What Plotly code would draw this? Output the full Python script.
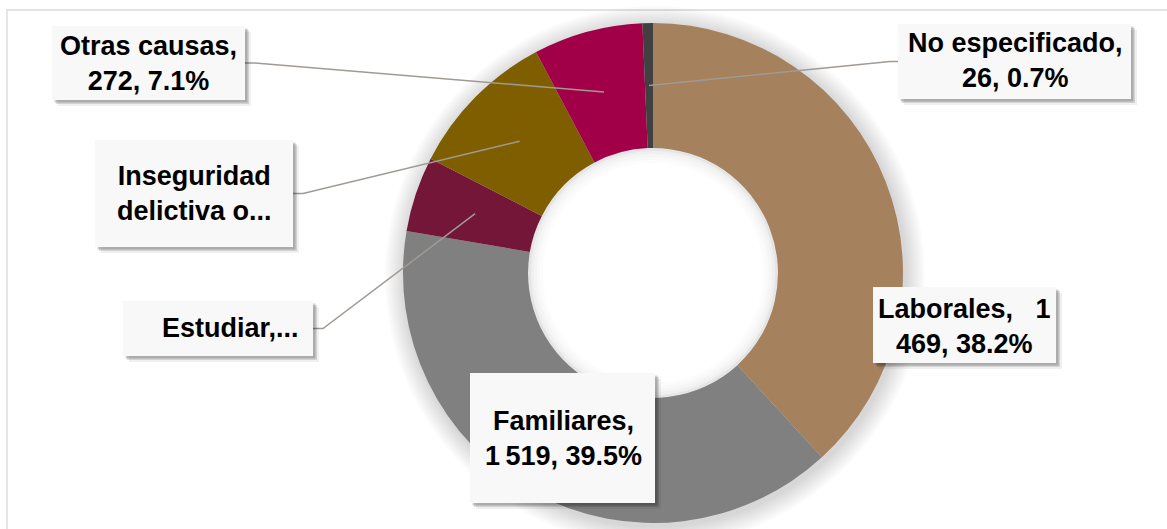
import math
import plotly.graph_objects as go

# data
categories = ["Laborales", "Familiares", "Estudiar", "Inseguridad delictiva o...",
              "Otras causas", "No especificado"]
values = [1469, 1519, 187, 373, 272, 26]
colors = ["#A5815E", "#808080", "#731637", "#7F5E00", "#A10048", "#404040"]

# label text as shown on the picture (some names are truncated in the original)
label_text = [
    "Laborales,\u00a0\u00a0\u00a01<br>469, 38.2%",
    "Familiares,<br>1\u2009519, 39.5%",
    "Estudiar,...",
    "Inseguridad<br>delictiva o...",
    "Otras causas,<br>272, 7.1%",
    "No especificado,<br>26, 0.7%",
]

W, H = 1167, 529
cx, cy, R = 653, 273, 250     # donut centre / radius in px
hole = 0.5

# label boxes: (x0, y0, x1, y1), text centre, leader side (None = no leader)
boxes = [
    ((873, 287, 1056, 363), (964, 326), None),
    ((470, 373, 655, 503), (563, 438), None),
    ((123, 301, 313, 356), (230, 328), "right"),
    ((95, 140, 293, 247), (194, 194), "right"),
    ((52, 26, 245, 100), (148, 63), "right"),
    ((898, 24, 1131, 99), (1015, 61), "left"),
]


def px(x):
    return x / W


def py(y):
    return 1 - y / H


fig = go.Figure()
fig.add_trace(go.Pie(
    labels=categories,
    values=values,
    hole=hole,
    sort=False,
    direction="clockwise",
    rotation=0,
    marker=dict(colors=colors, line=dict(width=0)),
    textinfo="none",
    showlegend=False,
    domain=dict(x=[px(cx - R), px(cx + R)], y=[py(cy + R), py(cy - R)]),
))

shapes = []

# chart frame
shapes.append(dict(type="rect", xref="paper", yref="paper",
                   x0=px(7), y0=py(10), x1=px(W + 30), y1=py(H + 30),
                   line=dict(color="#D9D9D9", width=1.3), layer="below"))

# soft shadow around the ring
for k in range(2, 22, 2):
    r = R + k
    shapes.append(dict(type="circle", xref="paper", yref="paper",
                       x0=px(cx + 2 - r), x1=px(cx + 2 + r),
                       y0=py(cy + 3 + r), y1=py(cy + 3 - r),
                       fillcolor="rgba(0,0,0,0.014)", line=dict(width=0),
                       layer="below"))

# keep the hole white
r = R * hole
shapes.append(dict(type="circle", xref="paper", yref="paper",
                   x0=px(cx - r), x1=px(cx + r), y0=py(cy + r), y1=py(cy - r),
                   fillcolor="white", line=dict(width=0), layer="below"))

# shadow cast into the hole
for k, a in [(1.5, 0.10), (4.5, 0.06), (7.5, 0.04), (10.5, 0.022), (13.5, 0.01)]:
    r = R * hole - k
    shapes.append(dict(type="circle", xref="paper", yref="paper",
                       x0=px(cx - r), x1=px(cx + r),
                       y0=py(cy + r), y1=py(cy - r),
                       line=dict(color="rgba(0,0,0,%.3f)" % a, width=3),
                       layer="above"))

# leader lines from box to the middle of each slice
total = sum(values)
rm = R * (1 + hole) / 2
cum = 0
for v, (box, _, side) in zip(values, boxes):
    mid = (cum + v / 2) / total
    cum += v
    if side is None:
        continue
    th = 2 * math.pi * mid
    ax = cx + rm * math.sin(th)
    ay = cy - rm * math.cos(th)
    ey = (box[1] + box[3]) / 2
    if side == "right":
        ex, kx = box[2], box[2] + 10
    else:
        ex, kx = box[0], box[0] - 8
    path = "M %f %f L %f %f L %f %f" % (px(ex), py(ey), px(kx), py(ey), px(ax), py(ay))
    shapes.append(dict(type="path", xref="paper", yref="paper", path=path,
                       line=dict(color="#A09A95", width=1.5), layer="above"))

# label boxes with a small drop shadow
for box, _, _ in boxes:
    x0, y0, x1, y1 = box
    for off, a in [(6, 0.06), (4, 0.12), (2.5, 0.18)]:
        shapes.append(dict(type="rect", xref="paper", yref="paper",
                           x0=px(x0 + off), x1=px(x1 + off),
                           y0=py(y1 + off), y1=py(y0 + off),
                           fillcolor="rgba(0,0,0,%.2f)" % a, line=dict(width=0),
                           layer="above"))
    shapes.append(dict(type="rect", xref="paper", yref="paper",
                       x0=px(x0), x1=px(x1), y0=py(y1), y1=py(y0),
                       fillcolor="#F8F8F8", line=dict(width=0), layer="above"))

annotations = []
for txt, (_, (tx, ty), _) in zip(label_text, boxes):
    annotations.append(dict(
        text=txt, xref="paper", yref="paper", x=px(tx), y=py(ty),
        xanchor="center", yanchor="middle", showarrow=False, align="center",
        font=dict(family="Liberation Sans, Arial, sans-serif", size=27,
                  color="#000000", weight=700),
    ))

fig.update_layout(
    width=W, height=H,
    margin=dict(l=0, r=0, t=0, b=0),
    paper_bgcolor="white",
    plot_bgcolor="white",
    shapes=shapes,
    annotations=annotations,
)

# drop the default page margin so the figure fills the window
fig.write_html("out.html", config={"displayModeBar": False},
               post_script="document.body.style.margin='0';document.body.style.overflow='hidden';")
